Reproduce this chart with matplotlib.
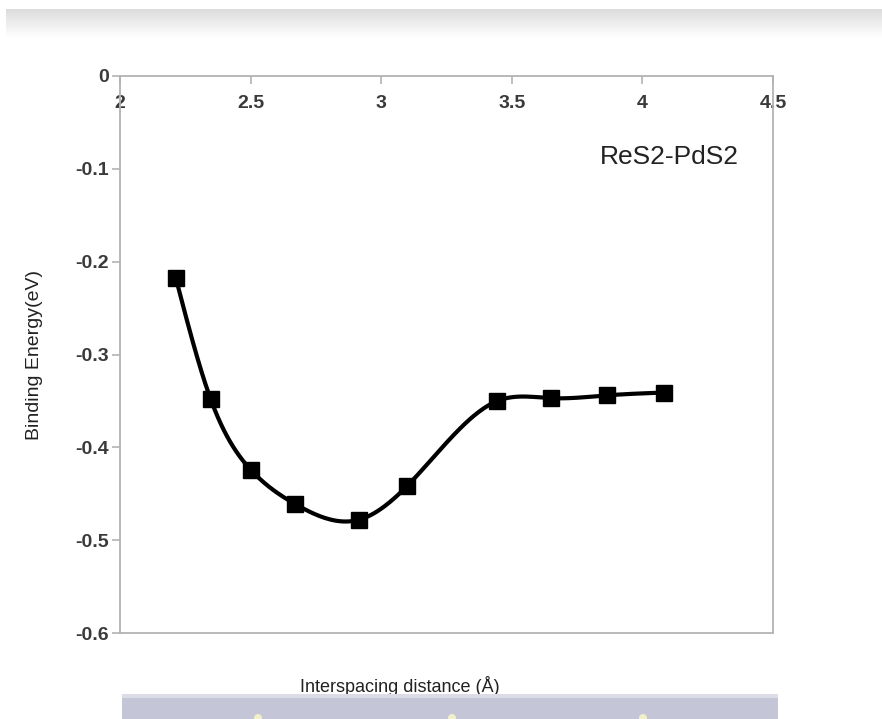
import numpy as np
import matplotlib.pyplot as plt
from matplotlib.patches import Rectangle, Circle

plt.rcParams['font.family'] = ['Liberation Sans', 'DejaVu Sans']

# interlayer distance (A) and binding energy (eV)
dist = [2.214, 2.347, 2.500, 2.670, 2.915, 3.098, 3.445, 3.651, 3.866, 4.083]
energy = [-0.218, -0.348, -0.424, -0.461, -0.478, -0.442, -0.350, -0.347, -0.344, -0.341]

xticks = [2, 2.5, 3, 3.5, 4, 4.5]
yticks = [0, -0.1, -0.2, -0.3, -0.4, -0.5, -0.6]


def natural_spline(x, y, n=40):
    x = np.asarray(x, float)
    y = np.asarray(y, float)
    h = np.diff(x)
    m = len(x)
    A = np.zeros((m, m))
    r = np.zeros(m)
    A[0, 0] = A[-1, -1] = 1
    for i in range(1, m - 1):
        A[i, i - 1] = h[i - 1]
        A[i, i] = 2 * (h[i - 1] + h[i])
        A[i, i + 1] = h[i]
        r[i] = 6 * ((y[i + 1] - y[i]) / h[i] - (y[i] - y[i - 1]) / h[i - 1])
    M = np.linalg.solve(A, r)
    xs, ys = [], []
    for i in range(m - 1):
        t = np.linspace(x[i], x[i + 1], n)
        a = x[i + 1] - t
        b = t - x[i]
        s = (M[i] * a**3 + M[i + 1] * b**3) / (6 * h[i]) \
            + (y[i] / h[i] - M[i] * h[i] / 6) * a \
            + (y[i + 1] / h[i] - M[i + 1] * h[i] / 6) * b
        xs.append(t)
        ys.append(s)
    return np.concatenate(xs), np.concatenate(ys)


fig = plt.figure(figsize=(8.82, 7.19), dpi=100)
ax = fig.add_axes([120 / 882, 86 / 719, 653 / 882, 557 / 719])

sx, sy = natural_spline(dist, energy)
ax.plot(sx, sy, color='black', lw=3.0, solid_capstyle='round')
ax.plot(dist, energy, ls='none', marker='s', ms=12, color='black')

ax.set_xlim(2, 4.5)
ax.set_ylim(-0.6, 0)
ax.set_xticks(xticks)
ax.set_xticklabels(['2', '2.5', '3', '3.5', '4', '4.5'])
ax.set_yticks(yticks)
ax.set_yticklabels(['0', '-0.1', '-0.2', '-0.3', '-0.4', '-0.5', '-0.6'])

for sp in ax.spines.values():
    sp.set_color('#b3b3b3')
    sp.set_linewidth(1.3)

ax.xaxis.set_ticks_position('top')
ax.tick_params(axis='x', direction='in', length=6, width=1.2, color='#b3b3b3',
               labelsize=14, labelcolor='#3a3a3a', pad=-26)
ax.tick_params(axis='y', direction='out', length=6, width=1.2, color='#b3b3b3',
               labelsize=14, labelcolor='#3a3a3a', pad=2)
for lab in ax.get_xticklabels() + ax.get_yticklabels():
    lab.set_fontweight('bold')

ax.text(0.948, 0.855, 'ReS2-PdS2', transform=ax.transAxes, ha='right',
        va='center', fontsize=19, color='#222222')

fig.text(35 / 882, 1 - 355 / 719, 'Binding Energy(eV)', rotation=90,
         ha='center', va='center', fontsize=14, color='#222222')
fig.text(400 / 882, 1 - 686 / 719, 'Interspacing distance (Å)',
         ha='center', va='center', fontsize=13, color='#222222')

# grey band along the top edge
bg = fig.add_axes([0, 0, 1, 1], zorder=-5)
bg.set_xlim(0, 882)
bg.set_ylim(719, 0)
bg.axis('off')
grad = np.linspace(0, 1, 50)[:, None]
bg.imshow(0.86 + 0.14 * grad, cmap='gray', vmin=0, vmax=1, aspect='auto',
          extent=[6, 882, 38, 9], interpolation='bilinear')

# lavender toolbar strip along the bottom edge
bar = fig.add_axes([0, 0, 1, 1], zorder=5)
bar.set_xlim(0, 882)
bar.set_ylim(719, 0)
bar.axis('off')
bar.add_patch(Rectangle((122, 697), 656, 22, facecolor='#c5c5d8', edgecolor='none'))
bar.add_patch(Rectangle((122, 694), 656, 4, facecolor='#dcdce6', edgecolor='none'))
for cx in [258, 452, 643]:
    bar.add_patch(Circle((cx, 718), 4, facecolor='#f1f0c8', edgecolor='none'))

fig.savefig('out.png', dpi=100)
